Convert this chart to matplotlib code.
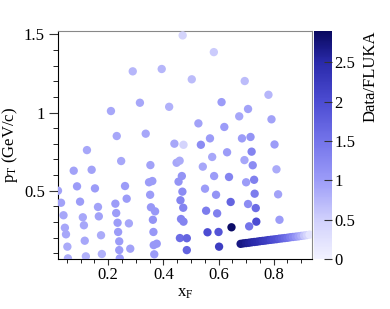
import matplotlib
matplotlib.use("Agg")
import matplotlib.pyplot as plt
from matplotlib.colors import LinearSegmentedColormap, Normalize
from matplotlib.ticker import MultipleLocator
import numpy as np

plt.rcParams['font.family'] = ['Liberation Serif', 'DejaVu Serif']
plt.rcParams['mathtext.fontset'] = 'custom'
plt.rcParams['mathtext.rm'] = 'Liberation Serif'
plt.rcParams['mathtext.it'] = 'Liberation Serif:italic'

# scattered measurement points: x_F, p_T, Data/FLUKA ratio
xf = [0.470, 0.289, 0.394, 0.315, 0.210, 0.421, 0.231, 0.336, 0.123, 0.440,
      0.473, 0.583, 0.503, 0.695, 0.781, 0.611, 0.707, 0.675, 0.792, 0.527,
      0.621, 0.569, 0.685, 0.716, 0.536, 0.803, 0.720, 0.247, 0.353, 0.448,
      0.459, 0.467, 0.075, 0.140, 0.018, 0.087, 0.152, 0.261, 0.348, 0.360,
      0.455, 0.029, 0.098, 0.267, 0.352, 0.469, 0.163, 0.226, 0.355, 0.370,
      0.462, 0.472, 0.038, 0.108, 0.166, 0.229, 0.043, 0.112, 0.234, 0.275,
      0.362, 0.464, 0.473, 0.047, 0.174, 0.236, 0.364, 0.460, 0.485, 0.115,
      0.240, 0.365, 0.376, 0.485, 0.052, 0.177, 0.240, 0.280, 0.367, 0.054,
      0.119, 0.242, 0.631, 0.577, 0.694, 0.543, 0.724, 0.810, 0.584, 0.638,
      0.700, 0.729, 0.551, 0.816, 0.591, 0.731, 0.644, 0.707, 0.735, 0.555,
      0.595, 0.821, 0.711, 0.737, 0.647, 0.560, 0.600, 0.602]
pt = [1.494, 1.264, 1.279, 1.063, 1.010, 1.037, 0.850, 0.865, 0.760, 0.801,
      0.794, 1.387, 1.213, 1.202, 1.114, 1.067, 1.023, 0.976, 0.957, 0.931,
      0.908, 0.835, 0.835, 0.844, 0.794, 0.796, 0.750, 0.690, 0.664, 0.679,
      0.692, 0.594, 0.628, 0.634, 0.500, 0.528, 0.515, 0.530, 0.554, 0.562,
      0.558, 0.423, 0.430, 0.449, 0.474, 0.494, 0.396, 0.417, 0.394, 0.368,
      0.439, 0.391, 0.343, 0.330, 0.336, 0.357, 0.263, 0.279, 0.295, 0.291,
      0.314, 0.319, 0.302, 0.221, 0.215, 0.236, 0.236, 0.197, 0.196, 0.180,
      0.176, 0.152, 0.161, 0.120, 0.142, 0.095, 0.120, 0.129, 0.093, 0.067,
      0.080, 0.067, 0.746, 0.716, 0.696, 0.654, 0.663, 0.637, 0.594, 0.588,
      0.554, 0.570, 0.513, 0.477, 0.474, 0.481, 0.428, 0.415, 0.389, 0.372,
      0.355, 0.314, 0.272, 0.302, 0.266, 0.234, 0.236, 0.142]
ratio = [0.45, 0.75, 0.75, 0.90, 0.90, 0.80, 0.90, 0.90, 0.90, 0.90,
         0.45, 0.55, 0.70, 0.70, 0.75, 1.00, 0.95, 0.90, 0.95, 0.95,
         1.00, 1.00, 1.00, 1.10, 1.20, 1.00, 1.30, 0.90, 0.95, 0.90,
         0.85, 1.10, 0.95, 0.95, 0.95, 1.00, 1.00, 1.00, 1.00, 1.00,
         1.10, 0.95, 1.00, 1.00, 1.00, 1.20, 0.95, 1.00, 1.05, 1.05,
         1.30, 1.30, 0.90, 0.90, 0.95, 1.00, 0.90, 0.90, 1.00, 0.90,
         1.10, 1.30, 1.30, 0.90, 0.85, 1.00, 1.05, 1.60, 1.70, 0.90,
         1.00, 1.05, 1.05, 1.70, 0.85, 0.80, 1.00, 0.95, 1.00, 0.85,
         0.80, 1.00, 1.00, 0.90, 0.90, 0.90, 1.20, 0.85, 1.00, 1.30,
         1.00, 1.35, 1.00, 0.95, 1.10, 1.40, 1.70, 1.20, 1.60, 1.40,
         1.35, 1.00, 1.50, 2.00, 2.85, 2.00, 1.90, 2.20]

# dense band of points at low p_T
band_xf = [0.680, 0.690, 0.700, 0.710, 0.720, 0.730, 0.740, 0.750, 0.760, 0.770,
           0.780, 0.790, 0.800, 0.810, 0.820, 0.830, 0.840, 0.850, 0.860, 0.870,
           0.880, 0.890, 0.900, 0.910, 0.920, 0.930]
band_pt = [0.160, 0.163, 0.165, 0.167, 0.170, 0.172, 0.174, 0.177, 0.179, 0.181,
           0.184, 0.186, 0.188, 0.190, 0.193, 0.195, 0.197, 0.199, 0.202, 0.204,
           0.206, 0.208, 0.211, 0.213, 0.216, 0.219]
band_ratio = [2.70, 2.70, 2.65, 2.60, 2.55, 2.50, 2.45, 2.40, 2.30, 2.25,
              2.20, 2.10, 2.00, 1.95, 1.85, 1.75, 1.65, 1.55, 1.40, 1.25,
              1.10, 0.95, 0.80, 0.60, 0.45, 0.20]

cbar_ticks = [0, 0.5, 1, 1.5, 2, 2.5]

cmap = LinearSegmentedColormap.from_list('ratio', [
    (0.0, '#f2f2ff'), (0.172, '#d0d0fc'), (0.345, '#9c9cf8'),
    (0.517, '#7474ea'), (0.69, '#4c4cd2'), (0.862, '#2a2aaa'), (1.0, '#08085e')])
norm = Normalize(vmin=0, vmax=2.9)

fig = plt.figure(figsize=(3.9, 3.09), dpi=100)
ax = fig.add_axes([0.1487, 0.1618, 0.8008 - 0.1487, 0.9006 - 0.1618])
cax = fig.add_axes([0.805, 0.1618, 0.0454, 0.9006 - 0.1618])

ax.scatter(xf, pt, c=ratio, cmap=cmap, norm=norm, s=36, linewidths=0, zorder=3)
ax.scatter(band_xf, band_pt, c=band_ratio, cmap=cmap, norm=norm, s=36, linewidths=0, zorder=4)

ax.set_xlim(0.018, 0.94)
ax.set_ylim(0.063, 1.524)
ax.xaxis.set_major_locator(MultipleLocator(0.2))
ax.xaxis.set_minor_locator(MultipleLocator(0.05))
ax.yaxis.set_major_locator(MultipleLocator(0.5))
ax.yaxis.set_minor_locator(MultipleLocator(0.1))
ax.xaxis.set_major_formatter(plt.FuncFormatter(lambda v, p: f'{v:g}'))
ax.yaxis.set_major_formatter(plt.FuncFormatter(lambda v, p: f'{v:g}'))
ax.tick_params(axis='both', which='major', labelsize=12, direction='out', color='#333333')
ax.tick_params(axis='y', which='major', length=6.5, pad=3)
ax.tick_params(axis='y', which='minor', length=3.6, direction='out')
ax.tick_params(axis='x', which='major', length=4, pad=2)
ax.tick_params(axis='x', which='minor', length=3, direction='out')
for side in ['top', 'right']:
    ax.spines[side].set_color('#888888')
for side in ['left', 'bottom']:
    ax.spines[side].set_color('black')

ax.set_xlabel(r'x$_\mathrm{F}$', fontsize=12, labelpad=1)
ax.set_ylabel(r'p$_\mathrm{T}$ (GeV/c)', fontsize=12, labelpad=3)

sm = plt.cm.ScalarMappable(cmap=cmap, norm=norm)
cb = fig.colorbar(sm, cax=cax, ticks=cbar_ticks)
cb.outline.set_visible(False)
cax.tick_params(axis='y', direction='in', length=6, labelsize=12, pad=2, color='#333333')
cax.yaxis.set_major_formatter(plt.FuncFormatter(lambda v, p: f'{v:g}'))
cax.set_ylabel('Data/FLUKA', fontsize=12, loc='top', labelpad=5)

fig.savefig('out.png', dpi=100)
